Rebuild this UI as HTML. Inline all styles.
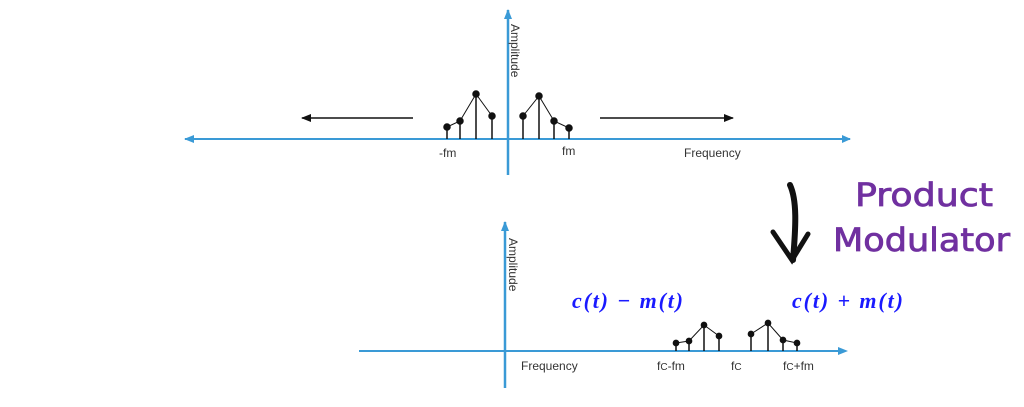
<!DOCTYPE html>
<html><head><meta charset="utf-8"><style>
html,body{margin:0;padding:0;background:#fff;}
svg{display:block;}
</style></head><body>
<svg width="1024" height="407" viewBox="0 0 1024 407" xmlns="http://www.w3.org/2000/svg">
<defs>
<marker id="ba" markerWidth="10" markerHeight="8" refX="9" refY="4" orient="auto" markerUnits="userSpaceOnUse"><path d="M0,0 L10,4 L0,8 Z" fill="#3a9ad6"/></marker>
<marker id="ka" markerWidth="10" markerHeight="8" refX="9" refY="4" orient="auto" markerUnits="userSpaceOnUse"><path d="M0,0 L10,4 L0,8 Z" fill="#111"/></marker>
</defs>
<g font-family="'Liberation Sans',sans-serif" font-size="12" fill="#333">
<line x1="850" y1="139" x2="185" y2="139" stroke="#3a9ad6" stroke-width="2" marker-end="url(#ba)"/>
<path d="M842,135 L851,139 L842,143 Z" fill="#3a9ad6"/>
<line x1="508" y1="175" x2="508" y2="10" stroke="#3a9ad6" stroke-width="2.5" marker-end="url(#ba)"/>
<text transform="translate(511,24) rotate(90)" font-size="12">Amplitude</text>
<line x1="413" y1="118" x2="302" y2="118" stroke="#111" stroke-width="1.5" marker-end="url(#ka)"/>
<line x1="600" y1="118" x2="733" y2="118" stroke="#111" stroke-width="1.5" marker-end="url(#ka)"/>
<g stroke="#111" stroke-width="1.5" fill="#111">
<polyline points="447,127 460,121 476,94 492,116" fill="none" stroke-width="1"/>
<polyline points="523,116 539,96 554,121 569,128" fill="none" stroke-width="1"/>
<line x1="447" y1="139" x2="447" y2="127"/><circle cx="447" cy="127" r="3"/>
<line x1="460" y1="139" x2="460" y2="121"/><circle cx="460" cy="121" r="3"/>
<line x1="476" y1="139" x2="476" y2="94"/><circle cx="476" cy="94" r="3"/>
<line x1="492" y1="139" x2="492" y2="116"/><circle cx="492" cy="116" r="3"/>
<line x1="523" y1="139" x2="523" y2="116"/><circle cx="523" cy="116" r="3"/>
<line x1="539" y1="139" x2="539" y2="96"/><circle cx="539" cy="96" r="3"/>
<line x1="554" y1="139" x2="554" y2="121"/><circle cx="554" cy="121" r="3"/>
<line x1="569" y1="139" x2="569" y2="128"/><circle cx="569" cy="128" r="3"/>
</g>
<text x="439" y="157">-fm</text>
<text x="562" y="155">fm</text>
<text x="684" y="157">Frequency</text>

<line x1="359" y1="351" x2="844" y2="351" stroke="#3a9ad6" stroke-width="2"/>
<path d="M838,347 L848,351 L838,355 Z" fill="#3a9ad6"/>
<line x1="505" y1="388" x2="505" y2="222" stroke="#3a9ad6" stroke-width="2.5" marker-end="url(#ba)"/>
<text transform="translate(509,238) rotate(90)" font-size="12">Amplitude</text>
<text x="521" y="370">Frequency</text>
<g stroke="#111" stroke-width="1.5" fill="#111">
<polyline points="676,343 689,341 704,325 719,336" fill="none" stroke-width="1"/>
<polyline points="751,334 768,323 783,340 797,343" fill="none" stroke-width="1"/>
<line x1="676" y1="351" x2="676" y2="343"/><circle cx="676" cy="343" r="2.6"/>
<line x1="689" y1="351" x2="689" y2="341"/><circle cx="689" cy="341" r="2.6"/>
<line x1="704" y1="351" x2="704" y2="325"/><circle cx="704" cy="325" r="2.6"/>
<line x1="719" y1="351" x2="719" y2="336"/><circle cx="719" cy="336" r="2.6"/>
<line x1="751" y1="351" x2="751" y2="334"/><circle cx="751" cy="334" r="2.6"/>
<line x1="768" y1="351" x2="768" y2="323"/><circle cx="768" cy="323" r="2.6"/>
<line x1="783" y1="351" x2="783" y2="340"/><circle cx="783" cy="340" r="2.6"/>
<line x1="797" y1="351" x2="797" y2="343"/><circle cx="797" cy="343" r="2.6"/>
</g>
<text x="657" y="370">f<tspan font-size="10">C</tspan>-fm</text>
<text x="731" y="370">f<tspan font-size="10">C</tspan></text>
<text x="783" y="370">f<tspan font-size="10">C</tspan>+fm</text>
</g>
<g font-family="'Liberation Serif',serif" font-style="italic" font-weight="bold" font-size="22" fill="#1a1aff">
<text x="572" y="308" textLength="111" lengthAdjust="spacing">c(t) − m(t)</text>
<text x="792" y="308" textLength="111" lengthAdjust="spacing">c(t) + m(t)</text>
</g>
<g font-family="'DejaVu Sans',sans-serif" font-size="32" fill="#7030a0" stroke="#7030a0" stroke-width="0.8">
<text x="855" y="206" textLength="138" lengthAdjust="spacingAndGlyphs">Product</text>
<text x="833" y="251" textLength="177" lengthAdjust="spacingAndGlyphs">Modulator</text>
</g>
<g stroke="#111" fill="none" stroke-linecap="round" stroke-width="6">
<path d="M790,185 C797,200 796,225 793,260"/>
<path d="M773,232 L792,260 L808,234" stroke-width="5"/>
</g>
</svg>
</body></html>
